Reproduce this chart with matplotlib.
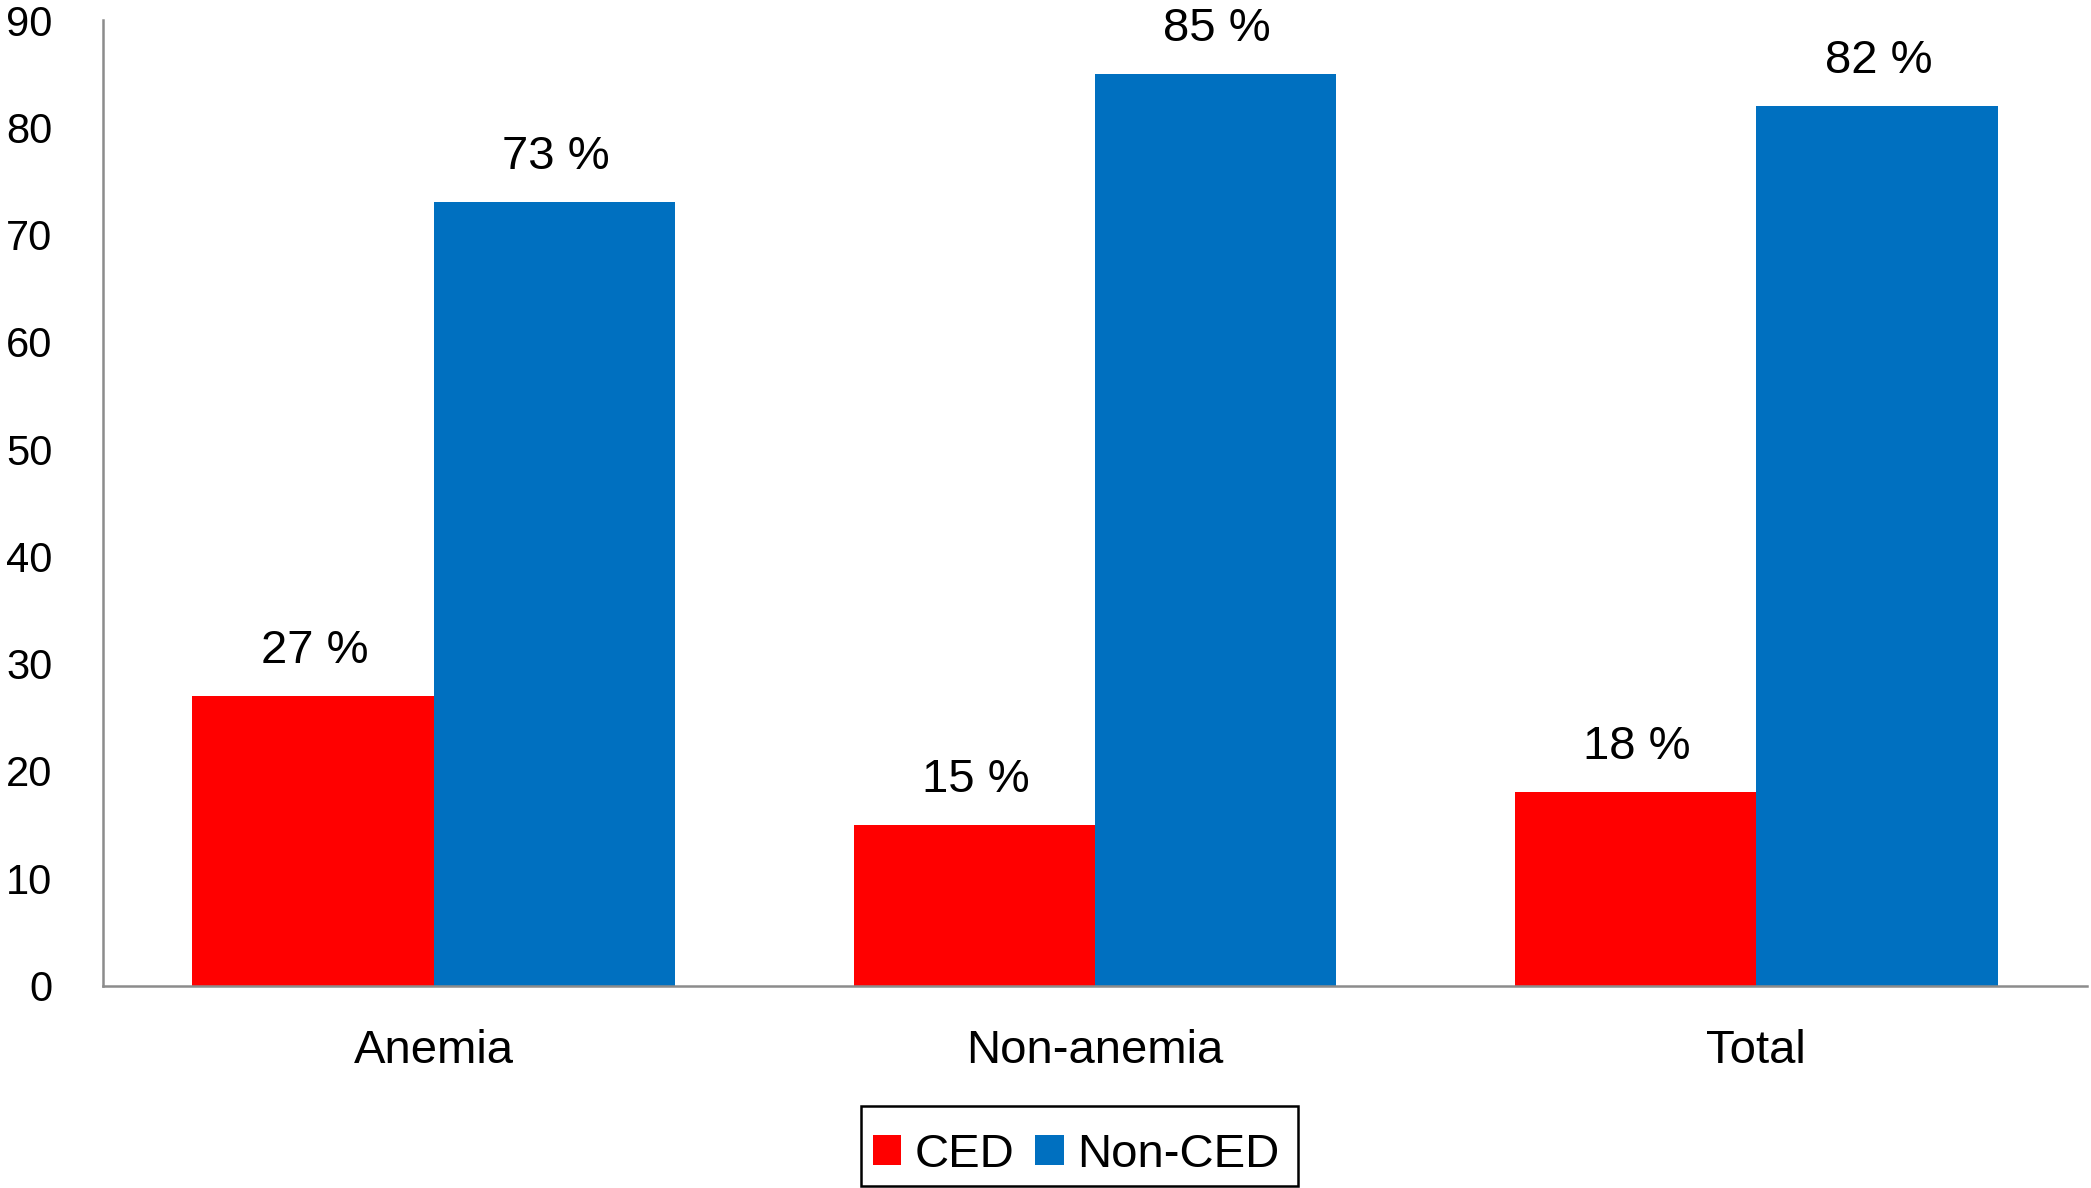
import matplotlib
matplotlib.use("Agg")
import matplotlib.pyplot as plt
from matplotlib.patches import Rectangle
import numpy as np

categories = ["Anemia", "Non-anemia", "Total"]
ced = [27, 15, 18]
non_ced = [73, 85, 82]
series_names = ["CED", "Non-CED"]
yticks = [0, 10, 20, 30, 40, 50, 60, 70, 80, 90]

plt.rcParams['font.family'] = ['Liberation Sans', 'DejaVu Sans']

W, H = 2091, 1188
fig = plt.figure(figsize=(W / 100, H / 100), dpi=100)
ax = fig.add_axes([103 / W, 1 - 985.5 / H, (2087 - 103) / W, (985.5 - 20) / H])

x = np.arange(len(categories))
w = 0.365
b1 = ax.bar(x - w / 2, ced, width=w, color="#FF0000", label=series_names[0])
b2 = ax.bar(x + w / 2, non_ced, width=w, color="#0070C0", label=series_names[1])

for bars, vals in ((b1, ced), (b2, non_ced)):
    for r, v in zip(bars, vals):
        ax.annotate(f"{v} %", (r.get_x() + r.get_width() / 2, v),
                    xytext=(1, 23.8), textcoords="offset points",
                    ha="center", va="baseline", fontsize=34, color="black")

ax.set_xlim(-0.5, 2.5)
ax.set_ylim(0, 90)
ax.set_yticks(yticks)
ax.set_yticklabels([str(t) for t in yticks], fontsize=30)
ax.set_xticks(x)
ax.set_xticklabels(categories, fontsize=34)
ax.tick_params(axis="y", length=0, pad=36.5)
ax.tick_params(axis="x", length=0, pad=31)

for s in ("top", "right"):
    ax.spines[s].set_visible(False)
for s in ("left", "bottom"):
    ax.spines[s].set_color("#8c8c8c")
    ax.spines[s].set_linewidth(1.8)

leg = fig.legend(handles=[b1, b2], labels=series_names, loc="center",
                 bbox_to_anchor=(1076 / W, 1 - 1155 / H),
                 ncol=2, fontsize=34, frameon=False,
                 handlelength=0.6, handleheight=0.6, handletextpad=0.28,
                 columnspacing=0.45, borderpad=0.3, borderaxespad=0)

# legend frame box
fig.patches.append(Rectangle((861 / W, 1 - 1186 / H), (1298 - 861) / W, (1186 - 1106) / H,
                             transform=fig.transFigure, fill=False,
                             edgecolor="black", linewidth=1.8, zorder=5))

fig.savefig("out.png", dpi=100, facecolor="white")
